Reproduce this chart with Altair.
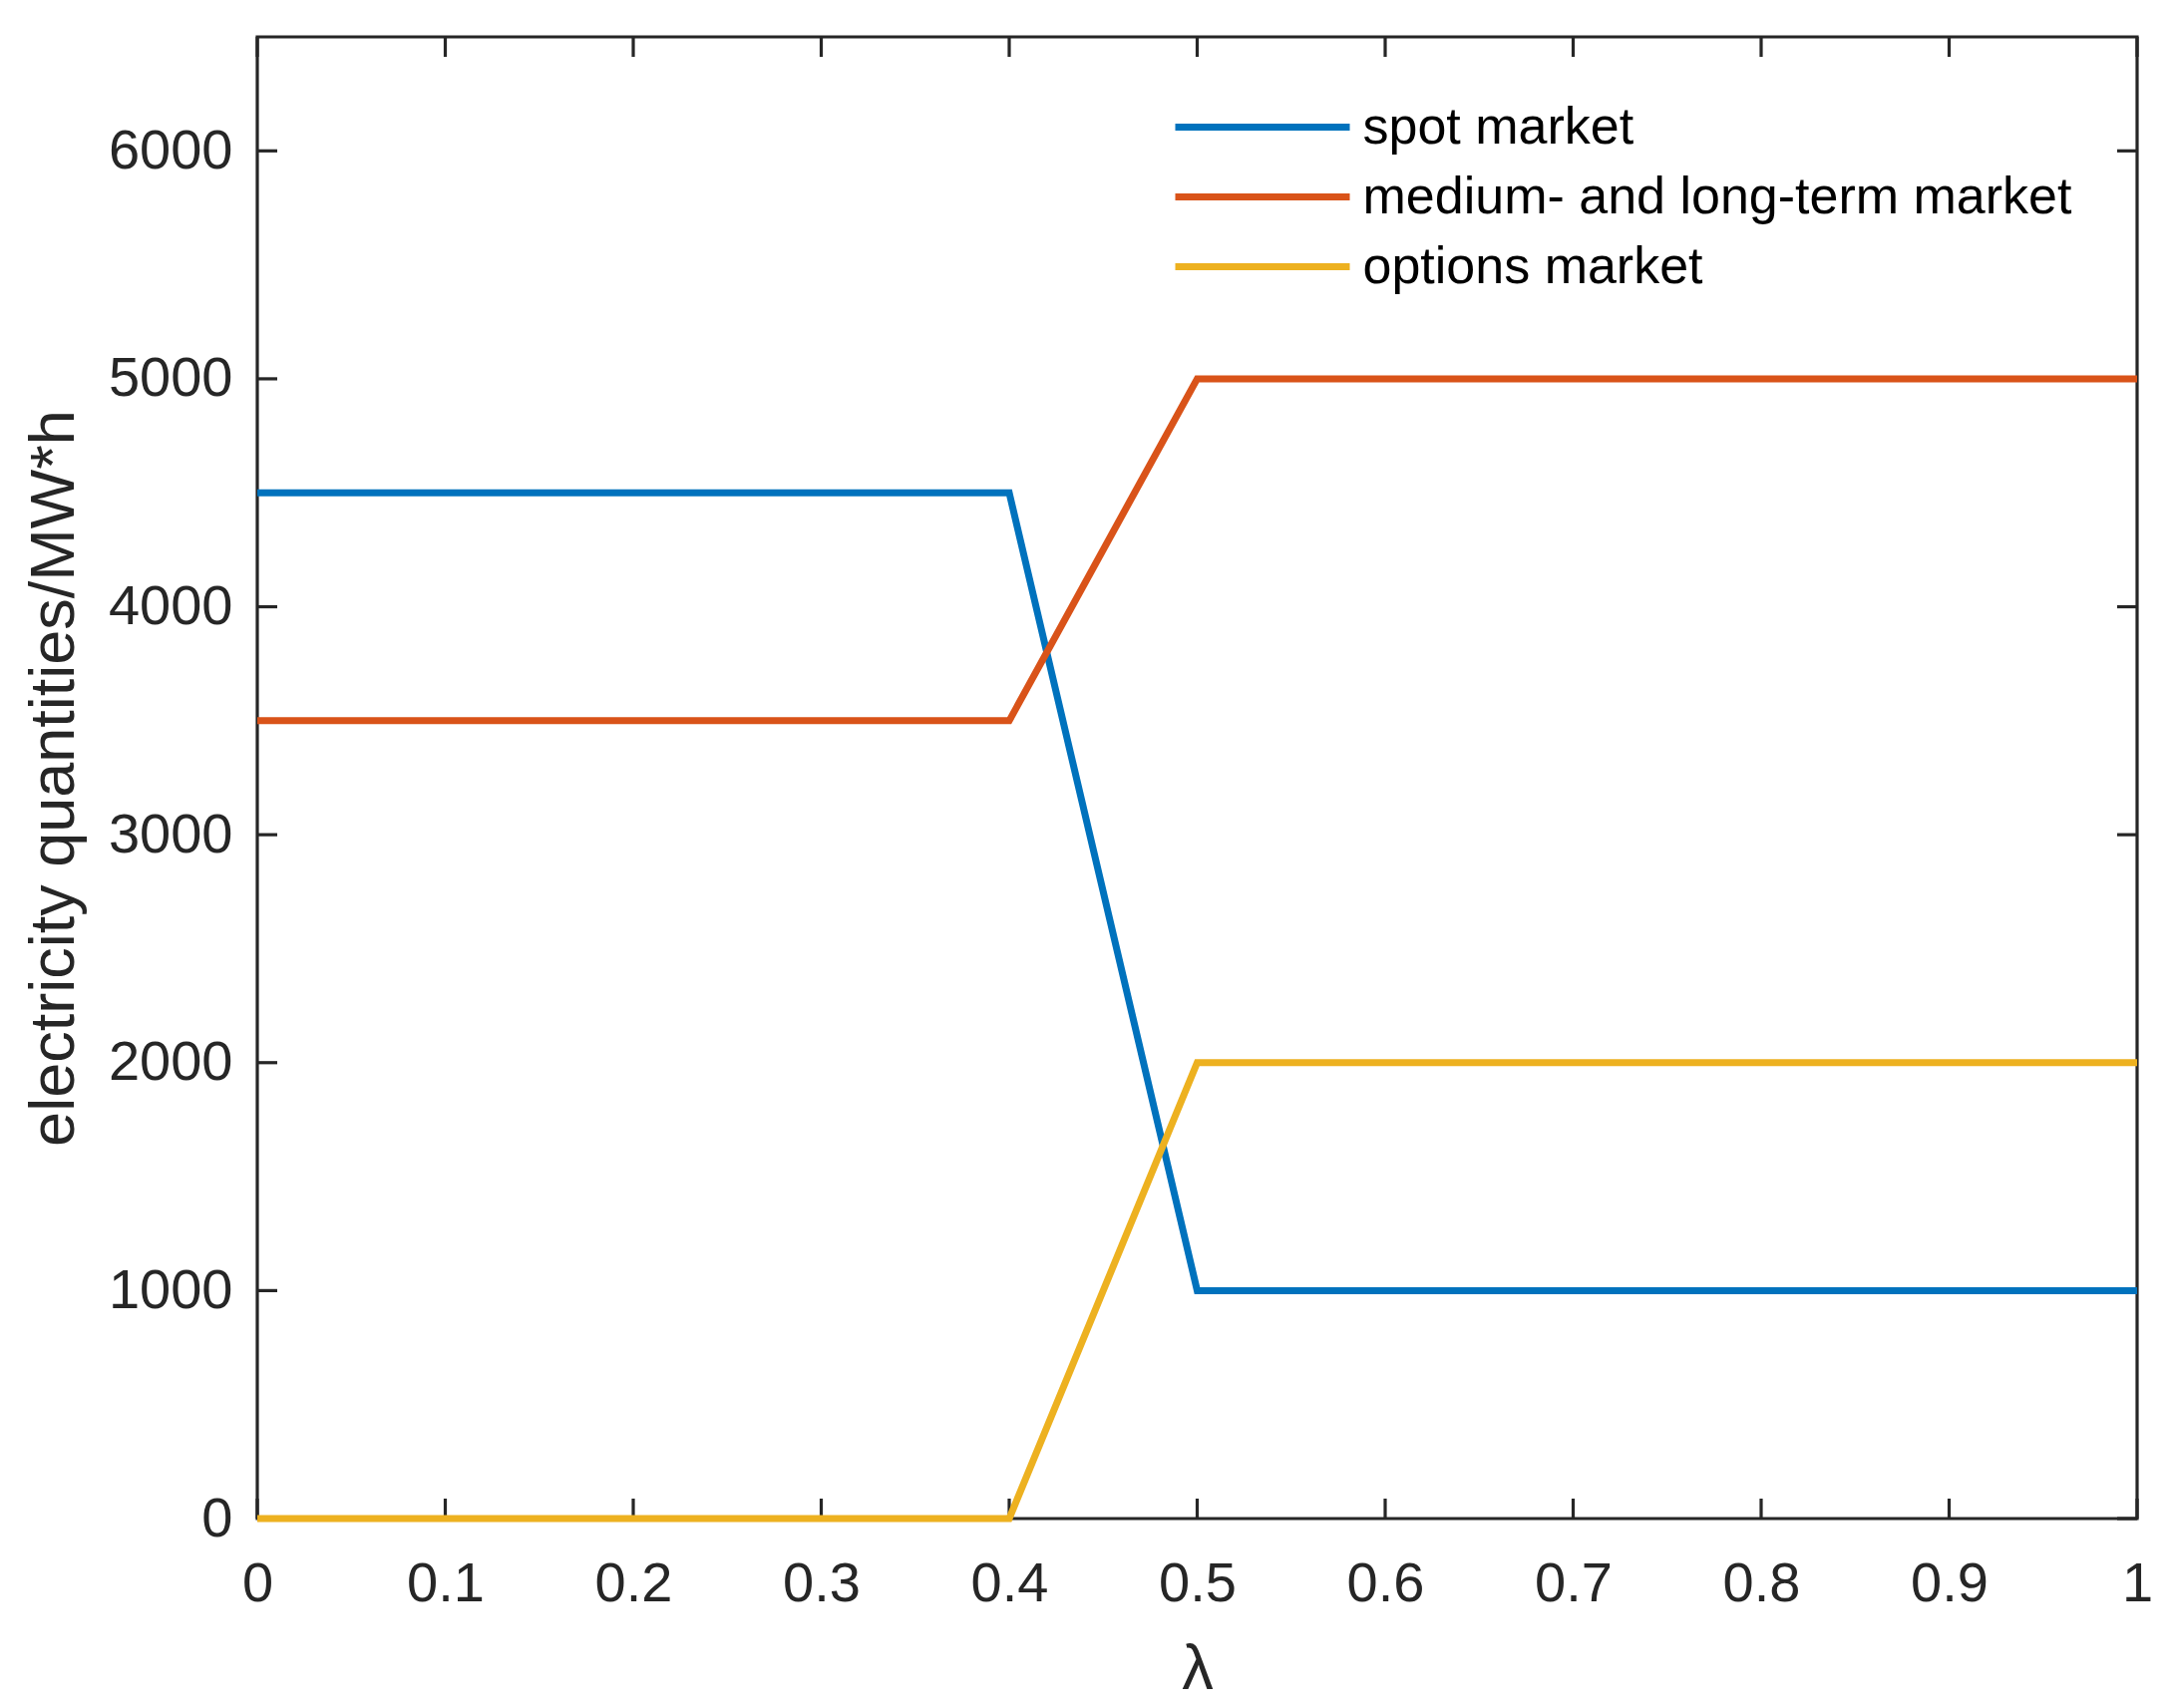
import altair as alt
import pandas as pd

# ---- data ----
lam = [0.0, 0.1, 0.2, 0.3, 0.4, 0.5, 0.6, 0.7, 0.8, 0.9, 1.0]
spot_market = [4500, 4500, 4500, 4500, 4500, 1000, 1000, 1000, 1000, 1000, 1000]
medium_long_market = [3500, 3500, 3500, 3500, 3500, 5000, 5000, 5000, 5000, 5000, 5000]
options_market = [0, 0, 0, 0, 0, 2000, 2000, 2000, 2000, 2000, 2000]

series_names = ["spot market", "medium- and long-term market", "options market"]
series_colors = ["#0072BD", "#D95319", "#EDB120"]

x_ticks = [0, 0.1, 0.2, 0.3, 0.4, 0.5, 0.6, 0.7, 0.8, 0.9, 1]
y_ticks = [0, 1000, 2000, 3000, 4000, 5000, 6000]

W, H = 1885, 1486
FONT = "Liberation Sans"
AX = "#262626"
TICK = 20
LW = 7

rows = []
for name, vals in zip(series_names, [spot_market, medium_long_market, options_market]):
    for i, (x, v) in enumerate(zip(lam, vals)):
        rows.append({"lam": x, "value": v, "series": name, "idx": i})
df = pd.DataFrame(rows)
xt = pd.DataFrame({"lam": x_ticks})
yt = pd.DataFrame({"value": y_ticks})

x_scale = alt.Scale(domain=[0, 1], nice=False, zero=False)
y_scale = alt.Scale(domain=[0, 6500], nice=False, zero=False)

x_axis = alt.Axis(values=x_ticks, format="~g", title="λ",
                  ticks=False, domain=False, grid=False,
                  labelFont=FONT, labelFontSize=56, labelColor=AX,
                  labelPadding=38, labelFlush=False, labelOverlap=False,
                  titleFont=FONT, titleFontSize=63, titleColor=AX,
                  titleFontWeight="normal", titleX=W / 2, titleY=170,
                  titleBaseline="alphabetic", titleAlign="center")
y_axis = alt.Axis(values=y_ticks, format="d",
                  title="electricity quantities/MW*h",
                  ticks=False, domain=False, grid=False,
                  labelFont=FONT, labelFontSize=56, labelColor=AX,
                  labelPadding=25, labelOverlap=False,
                  titleFont=FONT, titleFontSize=63, titleColor=AX,
                  titleFontWeight="normal", titleAngle=270,
                  titleX=-185, titleY=H / 2,
                  titleBaseline="alphabetic", titleAlign="center")

X = alt.X("lam:Q", scale=x_scale, axis=x_axis, title="λ")
Y = alt.Y("value:Q", scale=y_scale, axis=y_axis, title="electricity quantities/MW*h")

lines = alt.Chart(df).mark_line(strokeWidth=LW, clip=False).encode(
    x=X,
    y=Y,
    color=alt.Color("series:N",
                    scale=alt.Scale(domain=series_names, range=series_colors),
                    sort=series_names,
                    legend=alt.Legend(title=None, orient="none",
                                      legendX=979.5, legendY=62,
                                      symbolType="M-3.5,0H3.5", symbolSize=2500,
                                      symbolStrokeWidth=LW,
                                      labelFont=FONT, labelFontSize=52,
                                      labelColor="#000000", labelOffset=72,
                                      labelLimit=1200, rowPadding=15,
                                      padding=0)),
    order="idx:Q",
)

bottom_ticks = alt.Chart(xt).mark_rule(color=AX, strokeWidth=3.2).encode(
    x=X, y=alt.value(H), y2=alt.value(H - TICK))
top_ticks = alt.Chart(xt).mark_rule(color=AX, strokeWidth=3.2).encode(
    x=X, y=alt.value(0), y2=alt.value(TICK))
left_ticks = alt.Chart(yt).mark_rule(color=AX, strokeWidth=3.2).encode(
    y=Y, x=alt.value(0), x2=alt.value(TICK))
right_ticks = alt.Chart(yt).mark_rule(color=AX, strokeWidth=3.2).encode(
    y=Y, x=alt.value(W - TICK), x2=alt.value(W))

chart = alt.layer(bottom_ticks, top_ticks, left_ticks, right_ticks, lines).properties(
    width=W, height=H,
    autosize=alt.AutoSizeParams(type="none"),
    padding={"left": 250, "top": 29, "right": 31, "bottom": 182},
    background="white",
).configure_view(stroke=AX, strokeWidth=3.2)

chart.save("out.html", embed_options={"renderer": "svg", "actions": False})
